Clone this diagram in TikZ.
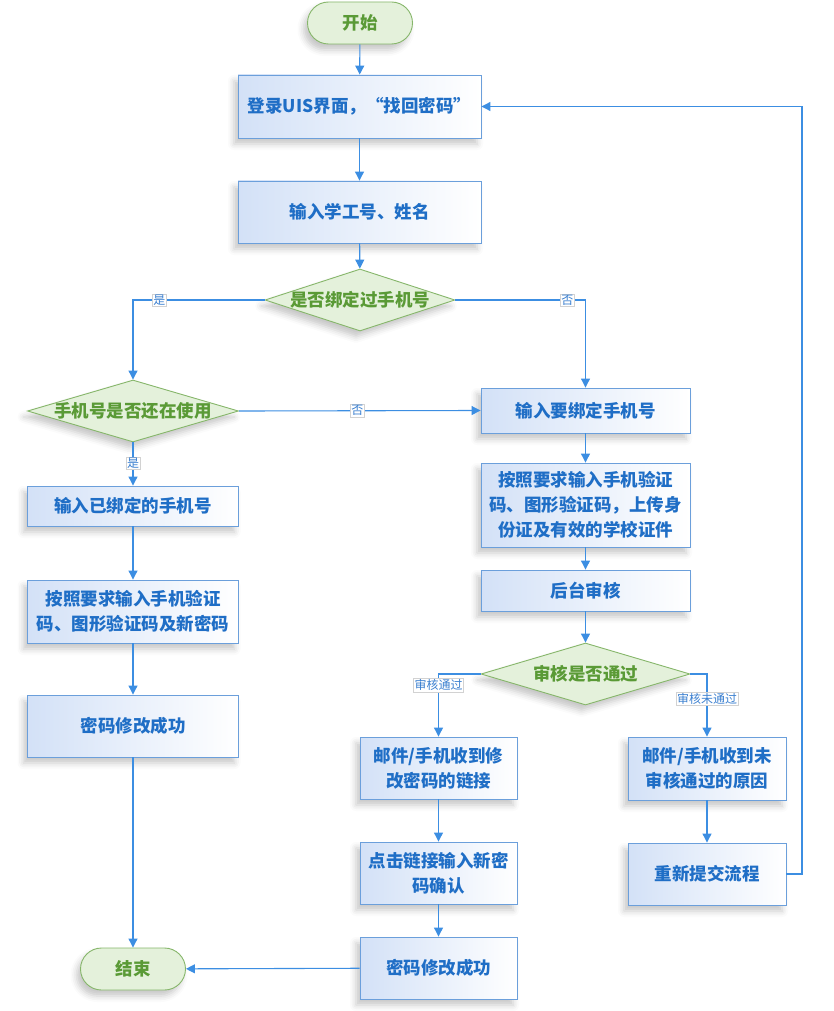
\documentclass[tikz,border=0pt]{standalone}
\usepackage{fontspec}
\setmainfont{Noto Sans CJK SC}
\usetikzlibrary{shapes.geometric,arrows.meta,shadows.blur}
\definecolor{gFill}{HTML}{E4F1DB}
\definecolor{gLine}{HTML}{86B66A}
\definecolor{gText}{HTML}{5A9A36}
\definecolor{bLine}{HTML}{6B9FDB}
\definecolor{bFill}{HTML}{D3E1F7}
\definecolor{bText}{HTML}{1F6EC6}
\definecolor{wire}{HTML}{3C8EE2}
\definecolor{lText}{HTML}{3A7FD0}
\begin{document}
\begin{tikzpicture}[x=1pt,y=-1pt,
  shad/.style={blur shadow={shadow xshift=-4pt,shadow yshift=-6pt,shadow opacity=22,shadow blur radius=6pt}},
  term/.style={draw=gLine,line width=0.9pt,fill=gFill,rounded corners=21pt,minimum width=105pt,minimum height=42pt,text=gText,font=\bfseries\fontsize{17.5}{20}\selectfont,shad},
  proc/.style={draw=bLine,line width=0.9pt,left color=bFill,right color=white,text=bText,align=center,font=\bfseries\fontsize{17.5}{25}\selectfont,shad},
  dec/.style={diamond,draw=gLine,line width=0.9pt,fill=gFill,text=gText,font=\bfseries\fontsize{17.5}{20}\selectfont,inner sep=0pt,shad},
  arr/.style={draw=wire,line width=1.1pt,-{Triangle[length=9pt,width=9pt]}},
  lab/.style={fill=white,draw=gray!35,line width=0.4pt,inner sep=1pt,text=lText,font=\fontsize{12}{13}\selectfont}
]
\useasboundingbox (0,0) rectangle (834,1011);
% main column
\node[term] (start) at (360,23) {开始};
\node[proc,minimum width=243pt,minimum height=63pt] (b1) at (359.5,106.5) {登录UIS界面，“找回密码”};
\node[proc,minimum width=243pt,minimum height=62pt] (b2) at (359.5,212) {输入学工号、姓名};
\node[dec,minimum width=190pt,minimum height=62pt] (d1) at (360,300) {\makebox[0pt]{是否绑定过手机号}};
% left column
\node[dec,minimum width=211pt,minimum height=62pt] (d2) at (133,411) {\makebox[0pt]{手机号是否还在使用}};
\node[proc,minimum width=211pt,minimum height=40pt] (l1) at (133,506) {输入已绑定的手机号};
\node[proc,minimum width=211pt,minimum height=63pt] (l2) at (133,611.5) {按照要求输入手机验证\\码、图形验证码及新密码};
\node[proc,minimum width=211pt,minimum height=62pt] (l3) at (133,726) {密码修改成功};
\node[term] (end) at (133,969) {结束};
% right column
\node[proc,minimum width=209pt,minimum height=45pt] (r1) at (585.5,410.5) {输入要绑定手机号};
\node[proc,minimum width=209pt,minimum height=84pt] (r2) at (585.5,505) {按照要求输入手机验证\\码、图形验证码，上传身\\份证及有效的学校证件};
\node[proc,minimum width=209pt,minimum height=41pt] (r3) at (585.5,590.5) {后台审核};
\node[dec,minimum width=209pt,minimum height=62pt] (d3) at (585.5,674) {\makebox[0pt]{审核是否通过}};
\node[proc,minimum width=157pt,minimum height=62pt] (m1) at (438.5,768) {邮件/手机收到修\\改密码的链接};
\node[proc,minimum width=157pt,minimum height=62pt] (m2) at (438.5,873) {点击链接输入新密\\码确认};
\node[proc,minimum width=157pt,minimum height=62pt] (m3) at (438.5,968) {密码修改成功};
\node[proc,minimum width=158pt,minimum height=63pt] (n1) at (707,768.5) {邮件/手机收到未\\审核通过的原因};
\node[proc,minimum width=158pt,minimum height=62pt] (n2) at (707,874) {重新提交流程};
\coordinate (loopx) at (802,0);
% connectors
\draw[arr] (start) -- (b1);
\draw[arr] (b1) -- (b2);
\draw[arr] (b2) -- (d1);
\draw[arr] (d1.west) -| node[lab,pos=0.4]{是} (d2.north);
\draw[arr] (d1.east) -| node[lab,pos=0.43]{否} (r1.north);
\draw[arr] (d2.east) -- node[lab,pos=0.49]{否} (r1.west);
\draw[arr] (d2) -- node[lab,pos=0.48]{是} (l1);
\draw[arr] (l1) -- (l2);
\draw[arr] (l2) -- (l3);
\draw[arr] (l3) -- (end);
\draw[arr] (r1) -- (r2);
\draw[arr] (r2) -- (r3);
\draw[arr] (r3) -- (d3);
\draw[arr] (d3.west) -| node[lab,pos=0.59]{审核通过} (m1.north);
\draw[arr] (d3.east) -| node[lab,pos=0.70]{审核未通过} (n1.north);
\draw[arr] (m1) -- (m2);
\draw[arr] (m2) -- (m3);
\draw[arr] (m3) -- (end);
\draw[arr] (n1) -- (n2);
\draw[arr] (n2.east) -- (n2.east -| loopx) |- (b1.east);
\end{tikzpicture}
\end{document}
